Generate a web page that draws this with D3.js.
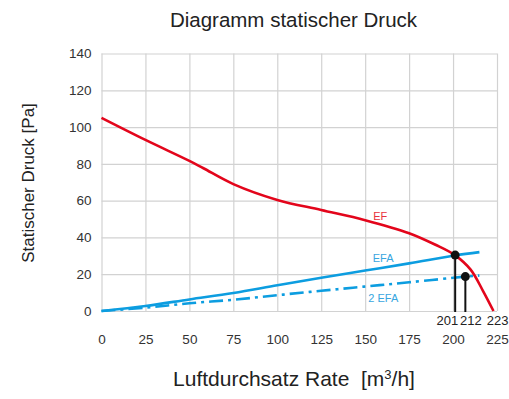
<!DOCTYPE html>
<html>
<head>
<meta charset="utf-8">
<script src="https://cdn.jsdelivr.net/npm/d3@7"></script>
<style>
  html, body { margin: 0; padding: 0; background: #fff; }
  svg { display: block; font-family: "Liberation Sans", Arial, sans-serif; }
</style>
</head>
<body>
<svg id="chart" width="509" height="399"></svg>
<script>
// ---- data ----
const xTicks = [0, 25, 50, 75, 100, 125, 150, 175, 200, 225];
const yTicks = [0, 20, 40, 60, 80, 100, 120, 140];

const efX  = [0, 25, 50, 58, 75, 100, 125, 150, 175, 190, 201, 210, 217, 223];
const efY  = [105, 93, 81.6, 77.6, 69, 60.4, 54.9, 49.4, 42.3, 36, 30.4, 22.5, 11, 0];

const efaX = [0, 25, 50, 75, 100, 125, 150, 175, 201, 215];
const efaY = [0, 2.7, 6.3, 9.8, 14, 18.1, 22, 25.9, 30.2, 32];

const efa2X = [0, 25, 50, 75, 100, 125, 150, 175, 207, 215];
const efa2Y = [0, 1.8, 4.2, 6.1, 8.6, 11, 13.3, 15.6, 18.7, 19.3];

const markerX = [201.2, 207];
const markerY = [30.4, 18.7];
const markerLabels = ["201", "212", "223"];
const markerLabelX = [196.8, 210.1, 225.4];

const seriesNames = ["EF", "EFA", "2 EFA"];
const seriesLabelX = [154.6, 154.3, 151.8];
const seriesLabelY = [49.5, 26.8, 5.1];

const title = "Diagramm statischer Druck";
const yTitle = "Statischer Druck [Pa]";

// ---- layout ----
const svg = d3.select("#chart");
const x = d3.scaleLinear().domain([0, 225]).range([101.5, 497]);
const y = d3.scaleLinear().domain([0, 140]).range([311, 53.5]);

const red = "#e3051b", blue = "#0c9de0";
const gridCol = "#d2d2d2", textCol = "#333";

// grid + axes
const xAxis = d3.axisBottom(x).tickValues(xTicks).tickSize(-(311 - 53.5)).tickPadding(23.5);
const gx = svg.append("g").attr("transform", "translate(0,311)").call(xAxis);
gx.select(".domain").remove();
gx.selectAll("line").attr("stroke", gridCol).attr("stroke-width", 1.2);
gx.selectAll("text").attr("fill", textCol).attr("font-size", 13.5).attr("font-family", "Liberation Sans, Arial, sans-serif");

const yAxis = d3.axisLeft(y).tickValues(yTicks).tickSize(-(497 - 101.5)).tickPadding(10);
const gy = svg.append("g").attr("transform", "translate(101.5,0)").call(yAxis);
gy.select(".domain").remove();
gy.selectAll("line").attr("stroke", gridCol).attr("stroke-width", 1.2);
gy.selectAll("text").attr("fill", textCol).attr("font-size", 13.5).attr("font-family", "Liberation Sans, Arial, sans-serif");

// lines
const line = d3.line().x(d => x(d[0])).y(d => y(d[1])).curve(d3.curveCatmullRom.alpha(0.5));
const zip = (a, b) => a.map((v, i) => [v, b[i]]);

svg.append("path").datum(zip(efa2X, efa2Y)).attr("d", line)
  .attr("fill", "none").attr("stroke", blue).attr("stroke-width", 2.6)
  .attr("stroke-dasharray", "14,5,3,5");
svg.append("path").datum(zip(efaX, efaY)).attr("d", line)
  .attr("fill", "none").attr("stroke", blue).attr("stroke-width", 2.6);
svg.append("path").datum(zip(efX, efY)).attr("d", line)
  .attr("fill", "none").attr("stroke", red).attr("stroke-width", 2.6);

// markers
markerX.forEach((mx, i) => {
  svg.append("line").attr("x1", x(mx)).attr("x2", x(mx))
    .attr("y1", y(markerY[i])).attr("y2", y(0) + 1)
    .attr("stroke", "#111").attr("stroke-width", 2);
  svg.append("circle").attr("cx", x(mx)).attr("cy", y(markerY[i])).attr("r", 4.5).attr("fill", "#111");
});
markerLabels.forEach((t, i) => {
  svg.append("text").attr("x", x(markerLabelX[i])).attr("y", 325)
    .attr("text-anchor", "middle").attr("font-size", 13).attr("fill", "#222").text(t);
});

// series labels
const labelCols = ["#e8313c", "#38a6e0", "#38a6e0"];
seriesNames.forEach((t, i) => {
  svg.append("text").attr("x", x(seriesLabelX[i])).attr("y", y(seriesLabelY[i]))
    .attr("font-size", 11).attr("fill", labelCols[i]).text(t);
});

// titles
svg.append("text").attr("x", 293.5).attr("y", 27.3).attr("text-anchor", "middle")
  .attr("font-size", 20.5).attr("fill", "#222").text(title);

const xt = svg.append("text").attr("x", 294).attr("y", 386).attr("text-anchor", "middle")
  .attr("font-size", 21).attr("fill", "#222").attr("xml:space", "preserve");
xt.append("tspan").text("Luftdurchsatz Rate  [m");
xt.append("tspan").attr("dy", -7).attr("font-size", 13).text("3");
xt.append("tspan").attr("dy", 7).text("/h]");

svg.append("text").attr("transform", "translate(34,183) rotate(-90)")
  .attr("text-anchor", "middle").attr("font-size", 17).attr("fill", "#222").text(yTitle);
</script>
</body>
</html>
